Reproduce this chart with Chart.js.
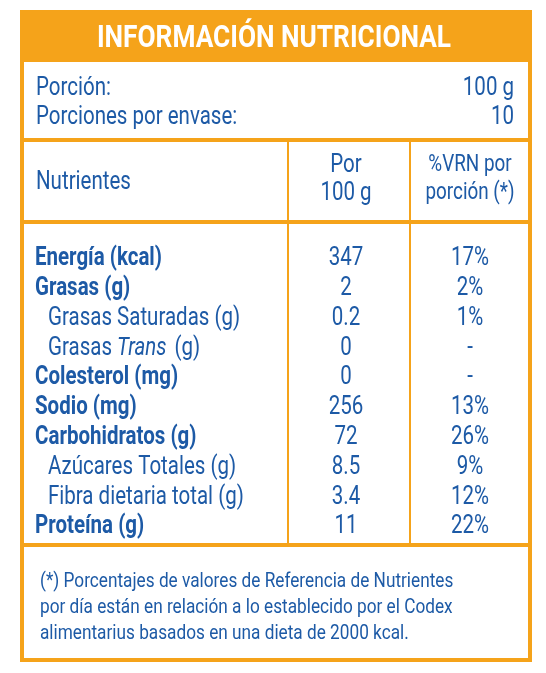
<!DOCTYPE html>
<html><head><meta charset="utf-8">
<script src="https://cdn.jsdelivr.net/npm/chart.js@4/dist/chart.umd.min.js"></script>
<style>html,body{margin:0;background:#fff}canvas{display:block}</style>
</head><body>
<canvas id="tabla" width="546" height="673"></canvas>
<script>
const nutrientes = ["Energía (kcal)", "Grasas (g)", "Grasas Saturadas (g)", "Grasas Trans (g)", "Colesterol (mg)", "Sodio (mg)", "Carbohidratos (g)", "Azúcares Totales (g)", "Fibra dietaria total (g)", "Proteína (g)"];
const principal = [true, true, false, false, true, true, true, false, false, true];
const por100g = ["347", "2", "0.2", "0", "0", "256", "72", "8.5", "3.4", "11"];
const vrn = ["17%", "2%", "1%", "-", "-", "13%", "26%", "9%", "12%", "22%"];
const nota = ["(*) Porcentajes de valores de Referencia de Nutrientes", "por día están en relación a lo establecido por el Codex", "alimentarius basados en una dieta de 2000 kcal."];

const azul = "#1d5aa6";
const naranja = "#f5a31a";
const fam = "'Roboto', sans-serif";
const sx = 0.82; // letra condensada

// texto angosto
function txt(c, s, x, y, align) {
  c.save();
  c.translate(x, y);
  c.scale(sx, 1);
  c.textAlign = align;
  c.fillText(s, 0, 0);
  const w = c.measureText(s).width * sx;
  c.restore();
  return w;
}

const tablaPlugin = {
  id: "tabla",
  afterDatasetsDraw(chart) {
    const c = chart.ctx;
    const y = chart.scales.y;
    c.save();
    c.fillStyle = naranja;
    c.fillRect(20, 10, 512, 52);
    c.strokeStyle = naranja;
    c.lineWidth = 4;
    c.strokeRect(22, 12, 508, 648);
    c.fillRect(20, 138, 512, 4);
    c.fillRect(20, 220, 512, 4);
    c.fillRect(20, 543, 512, 4);
    c.lineWidth = 2;
    c.beginPath();
    c.moveTo(288, 140); c.lineTo(288, 545);
    c.moveTo(410, 140); c.lineTo(410, 545);
    c.stroke();

    c.textBaseline = "middle";
    c.fillStyle = "#fff";
    c.font = "bold 32px " + fam;
    txt(c, "INFORMACIÓN NUTRICIONAL", 274, 39, "center");

    c.fillStyle = azul;
    c.font = "25px " + fam;
    txt(c, "Porción:", 36, 89, "left");
    txt(c, "Porciones por envase:", 36, 118, "left");
    txt(c, "100 g", 514, 89, "right");
    txt(c, "10", 514, 118, "right");

    txt(c, "Nutrientes", 36, 183, "left");
    txt(c, "Por", 346, 166, "center");
    txt(c, "100 g", 346, 194, "center");
    c.font = "23px " + fam;
    txt(c, "%VRN por", 470, 165, "center");
    txt(c, "porción (*)", 470, 193, "center");

    nutrientes.forEach((n, i) => {
      const py = y.getPixelForValue(i) + 2;
      if (principal[i]) {
        c.font = "bold 25px " + fam;
        txt(c, n, 35, py, "left");
      } else if (n.includes("Trans")) {
        c.font = "25px " + fam;
        let x = 48;
        x += txt(c, "Grasas ", x, py, "left");
        c.font = "italic 25px " + fam;
        x += txt(c, "Trans", x, py, "left") + 8;
        c.font = "25px " + fam;
        txt(c, "(g)", x, py, "left");
      } else {
        c.font = "25px " + fam;
        txt(c, n, 48, py, "left");
      }
      c.font = "25px " + fam;
      txt(c, por100g[i], 346, py, "center");
      txt(c, vrn[i], 470, py, "center");
    });

    c.font = "21px " + fam;
    nota.forEach((t, i) => txt(c, t, 40, 582 + i * 26, "left"));
    c.restore();
  }
};

new Chart(document.getElementById("tabla").getContext("2d"), {
  type: "bar",
  data: {
    labels: nutrientes,
    datasets: [{ data: por100g.map(Number), backgroundColor: "rgba(0,0,0,0)" }]
  },
  options: {
    indexAxis: "y",
    responsive: false,
    animation: false,
    layout: { padding: { top: 242, bottom: 133, left: 0, right: 0 } },
    scales: {
      x: { display: false, min: 0, max: 400 },
      y: { display: false }
    },
    plugins: { legend: { display: false }, tooltip: { enabled: false } }
  },
  plugins: [tablaPlugin]
});
</script>
</body></html>
